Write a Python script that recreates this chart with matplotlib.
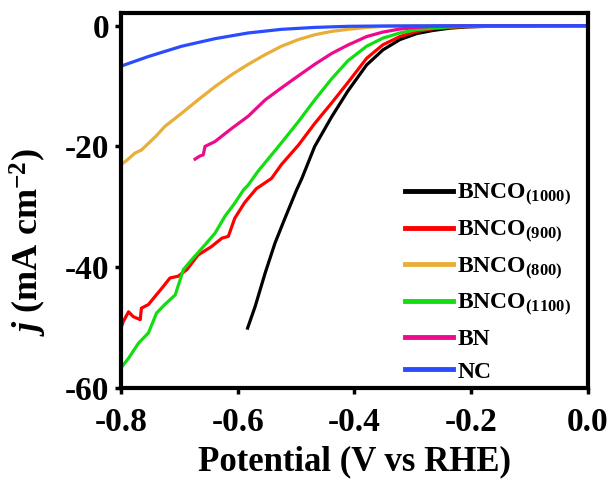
import matplotlib
matplotlib.use('Agg')
import matplotlib.pyplot as plt
from matplotlib.ticker import FormatStrFormatter

plt.rcParams['font.family'] = ['Liberation Serif', 'DejaVu Serif']
plt.rcParams['font.weight'] = 'bold'
plt.rcParams['axes.unicode_minus'] = False
plt.rcParams['mathtext.fontset'] = 'custom'
plt.rcParams['mathtext.rm'] = 'Liberation Serif:bold'
plt.rcParams['mathtext.bf'] = 'Liberation Serif:bold'
plt.rcParams['mathtext.it'] = 'Liberation Serif:bold:italic'

# LSV curves (potential in V vs RHE, j in mA cm^-2)
x_1000 = [-0.583, -0.570, -0.553, -0.536, -0.519, -0.499, -0.490, -0.468, -0.439,
          -0.411, -0.379, -0.351, -0.322, -0.293, -0.265, -0.236, -0.208, -0.15, -0.1, 0.0]
y_1000 = [-50.1, -46.5, -41.0, -36.0, -31.9, -27.2, -25.3, -20.0, -15.1,
          -10.8, -6.5, -4.0, -2.3, -1.3, -0.78, -0.4, -0.2, -0.05, -0.02, 0.0]

x_900 = [-0.800, -0.796, -0.787, -0.779, -0.767, -0.765, -0.753, -0.742, -0.730, -0.716,
         -0.702, -0.687, -0.668, -0.645, -0.627, -0.616, -0.605, -0.588, -0.568, -0.542,
         -0.525, -0.496, -0.468, -0.439, -0.411, -0.379, -0.351, -0.322, -0.293, -0.265,
         -0.236, -0.208, -0.15, 0.0]
y_900 = [-50.1, -49.0, -47.4, -48.2, -48.7, -46.8, -46.2, -44.9, -43.5, -41.8,
         -41.5, -40.4, -38.0, -36.6, -35.2, -34.9, -31.9, -29.3, -27.0, -25.3,
         -23.0, -19.8, -16.2, -12.8, -9.4, -5.4, -3.15, -1.8, -0.94, -0.5,
         -0.28, -0.15, -0.04, 0.0]

x_800 = [-0.800, -0.790, -0.776, -0.765, -0.753, -0.740, -0.725, -0.696, -0.668, -0.639,
         -0.610, -0.582, -0.553, -0.525, -0.496, -0.468, -0.439, -0.411, -0.379,
         -0.35, -0.3, -0.2, 0.0]
y_800 = [-23.0, -22.3, -21.1, -20.6, -19.5, -18.3, -16.7, -14.5, -12.3, -10.1,
         -8.1, -6.4, -4.8, -3.4, -2.3, -1.5, -0.94, -0.6, -0.28,
         -0.12, -0.04, -0.01, 0.0]

x_1100 = [-0.800, -0.787, -0.770, -0.753, -0.739, -0.725, -0.707, -0.693, -0.679, -0.656,
          -0.639, -0.622, -0.605, -0.590, -0.582, -0.565, -0.542, -0.525, -0.496, -0.468,
          -0.439, -0.411, -0.379, -0.351, -0.322, -0.293, -0.265, -0.236, -0.2, -0.15, 0.0]
y_1100 = [-56.7, -55.1, -52.6, -50.9, -47.6, -46.2, -44.6, -40.4, -38.8, -36.3,
          -34.4, -31.6, -29.4, -27.2, -26.4, -24.1, -21.4, -19.4, -15.9, -12.3,
          -8.8, -5.8, -3.4, -2.05, -1.2, -0.66, -0.4, -0.2, -0.08, -0.03, 0.0]

x_bn = [-0.673, -0.665, -0.659, -0.656, -0.639, -0.610, -0.582, -0.553, -0.525, -0.496,
        -0.468, -0.439, -0.411, -0.379, -0.351, -0.322, -0.293, -0.265, -0.2, 0.0]
y_bn = [-22.1, -21.6, -21.4, -20.0, -19.2, -17.0, -15.0, -12.3, -10.3, -8.3,
        -6.4, -4.6, -3.2, -1.8, -1.05, -0.55, -0.28, -0.1, -0.02, 0.0]

x_nc = [-0.800, -0.753, -0.696, -0.639, -0.582, -0.525, -0.468, -0.411, -0.35, -0.25, 0.0]
y_nc = [-6.7, -5.1, -3.4, -2.15, -1.2, -0.6, -0.28, -0.1, -0.04, -0.01, 0.0]

series = [
    (x_1000, y_1000, '#000000', 'BNCO$_{(1000)}$'),
    (x_900, y_900, '#ff0000', 'BNCO$_{(900)}$'),
    (x_800, y_800, '#e8ae38', 'BNCO$_{(800)}$'),
    (x_1100, y_1100, '#11dd11', 'BNCO$_{(1100)}$'),
    (x_bn, y_bn, '#ee0a8c', 'BN'),
    (x_nc, y_nc, '#2a4cff', 'NC'),
]

fig = plt.figure(figsize=(6.11, 4.83), dpi=100)
ax = fig.add_axes([0.198, 0.197, 0.764, 0.776])

for xs, ys, c, lab in series:
    ax.plot(xs, ys, color=c, lw=2.3, label=lab)

ax.set_xlim(-0.8, 0.0)
ax.set_ylim(-60, 2.1)
ax.set_xticks([-0.8, -0.6, -0.4, -0.2, 0.0])
ax.set_yticks([0, -20, -40, -60])
ax.xaxis.set_major_formatter(FormatStrFormatter('%.1f'))
ax.tick_params(direction='out', length=4, width=2.5, labelsize=24)
ax.tick_params(axis='x', pad=10)
ax.tick_params(axis='y', pad=4.5)
for s in ax.spines.values():
    s.set_linewidth(3)

ax.set_xlabel('Potential (V vs RHE)', fontsize=25, fontweight='bold', labelpad=5)
ax.set_ylabel('$j$ (mA cm$^{-2}$)', fontsize=26, fontweight='bold')
ax.yaxis.set_label_coords(-0.155, 0.39)

leg = ax.legend(loc='lower right', bbox_to_anchor=(1.0, -0.03), frameon=False,
                fontsize=17, handlelength=2.0, handletextpad=0.2,
                labelspacing=0.45, borderaxespad=0.3)
for line in leg.get_lines():
    line.set_linewidth(3.5)

fig.savefig('out.png', dpi=100)
